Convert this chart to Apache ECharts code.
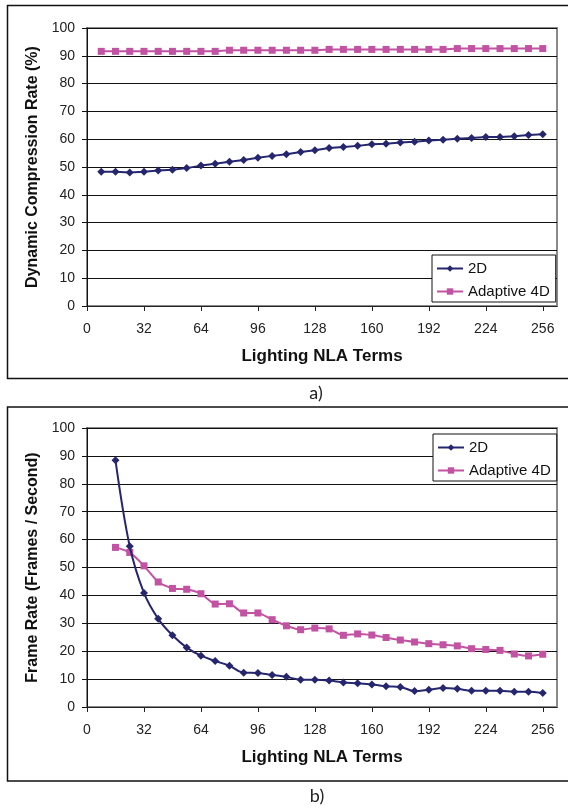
<!DOCTYPE html>
<html>
<head>
<meta charset="utf-8">
<script src="https://cdn.jsdelivr.net/npm/echarts@6/dist/echarts.min.js"></script>
<style>
  html, body { margin: 0; padding: 0; background: #fff; }
  #main-chart { width: 568px; height: 809px; }
</style>
</head>
<body>
<div id="main-chart"></div>
<script>
const xTickLabels = [0, 32, 64, 96, 128, 160, 192, 224, 256];

// a) dynamic compression rate
const rateTerms = [8, 16, 24, 32, 40, 48, 56, 64, 72, 80, 88, 96, 104, 112, 120, 128,
  136, 144, 152, 160, 168, 176, 184, 192, 200, 208, 216, 224, 232, 240, 248, 256];
const rate2D = [48.3, 48.3, 48.0, 48.3, 48.7, 49.0, 49.6, 50.5, 51.2, 51.9, 52.5, 53.3, 54.0, 54.6, 55.4, 56.0,
  56.8, 57.2, 57.6, 58.2, 58.4, 58.8, 59.1, 59.5, 59.8, 60.2, 60.4, 60.8, 60.8, 61.1, 61.5, 61.8];
const rate4D = [91.6, 91.6, 91.6, 91.6, 91.6, 91.6, 91.6, 91.6, 91.6, 92.0, 92.0, 92.0, 92.0, 92.0, 92.0, 92.0,
  92.3, 92.3, 92.3, 92.3, 92.3, 92.3, 92.3, 92.3, 92.3, 92.6, 92.6, 92.6, 92.6, 92.6, 92.6, 92.6];

// b) frame rate
const fpsTerms = [16, 24, 32, 40, 48, 56, 64, 72, 80, 88, 96, 104, 112, 120, 128,
  136, 144, 152, 160, 168, 176, 184, 192, 200, 208, 216, 224, 232, 240, 248, 256];
const fps2D = [88.4, 57.6, 40.9, 31.6, 25.7, 21.3, 18.4, 16.5, 14.8, 12.3, 12.2, 11.5, 10.8, 9.8, 9.8,
  9.5, 8.8, 8.5, 8.1, 7.4, 7.2, 5.7, 6.2, 6.8, 6.5, 5.8, 5.8, 5.8, 5.5, 5.5, 5.0];
const fps4D = [57.2, 55.4, 50.6, 44.8, 42.5, 42.2, 40.6, 36.9, 37.0, 33.7, 33.7, 31.3, 29.1, 27.7, 28.3,
  28.0, 25.7, 26.2, 25.8, 24.9, 24.0, 23.3, 22.7, 22.3, 21.9, 20.9, 20.6, 20.3, 19.0, 18.3, 18.9];

const seriesNames = ["2D", "Adaptive 4D"];
const navy = "#26266f";
const pink = "#c252a2";

const zip = (xs, ys) => xs.map((x, i) => [x, ys[i]]);

function xAxisFor(gridIndex) {
  return {
    type: "value",
    gridIndex,
    min: 0,
    max: 264,
    interval: 32,
    name: "Lighting NLA Terms",
    nameLocation: "middle",
    nameGap: 42,
    nameTextStyle: { fontFamily: "Liberation Sans", fontWeight: "bold", fontSize: 17, color: "#111" },
    axisLine: { lineStyle: { color: "#222", width: 1 } },
    axisTick: { customValues: xTickLabels, length: 5, lineStyle: { color: "#222" } },
    axisLabel: { customValues: xTickLabels, margin: 16, fontFamily: "Liberation Sans", fontSize: 14, color: "#222" },
    splitLine: { show: false }
  };
}

function yAxisFor(gridIndex, name) {
  return {
    type: "value",
    gridIndex,
    min: 0,
    max: 100,
    interval: 10,
    name,
    nameLocation: "middle",
    nameGap: 45,
    nameTextStyle: { fontFamily: "Liberation Sans", fontWeight: "bold", fontSize: 16, color: "#111" },
    axisLine: { show: true, lineStyle: { color: "#111", width: 1 } },
    axisTick: { show: true, length: 5, lineStyle: { color: "#111" } },
    axisLabel: { margin: 12, fontFamily: "Liberation Sans", fontSize: 14, color: "#222" },
    splitLine: { show: true, lineStyle: { color: "#111", width: 1 } }
  };
}

function legendAt(left, top) {
  return {
    data: seriesNames,
    orient: "vertical",
    left,
    top,
    itemWidth: 26,
    itemHeight: 8,
    itemGap: 8,
    padding: [6, 6, 3, 4],
    borderColor: "#111",
    borderWidth: 1,
    backgroundColor: "#fff",
    textStyle: { fontFamily: "Liberation Sans", fontSize: 15, color: "#111", lineHeight: 14 }
  };
}

function lineSeries(name, gridIndex, data, smooth) {
  const is2D = name === "2D";
  const color = is2D ? navy : pink;
  return {
    name,
    type: "line",
    xAxisIndex: gridIndex,
    yAxisIndex: gridIndex,
    data,
    smooth,
    symbol: is2D ? "diamond" : "rect",
    symbolSize: is2D ? 8 : 7,
    showAllSymbol: true,
    lineStyle: { color, width: 2 },
    itemStyle: { color },
    z: is2D ? 3 : 2
  };
}

const chart = echarts.init(document.getElementById("main-chart"));

chart.setOption({
  animation: false,
  backgroundColor: "#fff",
  grid: [
    { left: 87, top: 28, width: 470, height: 278, show: true, borderColor: "#8a8a8a", borderWidth: 2, backgroundColor: "#fff" },
    { left: 87, top: 428, width: 470, height: 279, show: true, borderColor: "#8a8a8a", borderWidth: 2, backgroundColor: "#fff" }
  ],
  xAxis: [xAxisFor(0), xAxisFor(1)],
  yAxis: [
    yAxisFor(0, "Dynamic Compression Rate (%)"),
    yAxisFor(1, "Frame Rate (Frames / Second)")
  ],
  legend: [legendAt(432, 255), legendAt(433, 434)],
  series: [
    lineSeries("2D", 0, zip(rateTerms, rate2D), false),
    lineSeries("Adaptive 4D", 0, zip(rateTerms, rate4D), false),
    lineSeries("2D", 1, zip(fpsTerms, fps2D), 0.35),
    lineSeries("Adaptive 4D", 1, zip(fpsTerms, fps4D), 0.2)
  ],
  graphic: [
    { type: "rect", shape: { x: 7.5, y: 5.5, width: 570, height: 373 }, style: { fill: null, stroke: "#111", lineWidth: 1.5 }, silent: true },
    { type: "rect", shape: { x: 7.5, y: 407, width: 570, height: 374 }, style: { fill: null, stroke: "#111", lineWidth: 1.5 }, silent: true },
    { type: "text", x: 316, y: 393, style: { text: "a)", font: "normal normal 18px Lato", fill: "#222", align: "center", verticalAlign: "middle" } },
    { type: "text", x: 317, y: 796, style: { text: "b)", font: "normal normal 18px Lato", fill: "#222", align: "center", verticalAlign: "middle" } }
  ]
});

window.addEventListener("resize", () => {
  chart.resize();
});
</script>
</body>
</html>
